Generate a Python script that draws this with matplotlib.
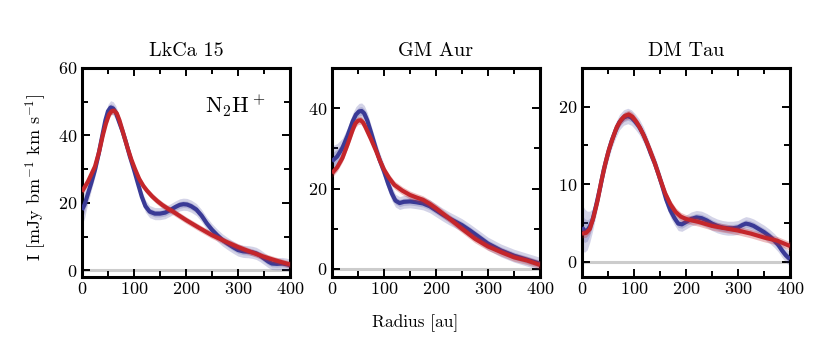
import matplotlib
matplotlib.use("Agg")
import matplotlib.pyplot as plt
from matplotlib.ticker import MultipleLocator
import numpy as np

plt.rcParams['font.family'] = 'serif'
plt.rcParams['font.serif'] = ['cmr10']
plt.rcParams['mathtext.fontset'] = 'cm'
plt.rcParams['axes.formatter.use_mathtext'] = True

titles = ["LkCa 15", "GM Aur", "DM Tau"]

# LkCa 15
r1_blue = [0, 5, 10, 18, 25, 32, 40, 45, 50, 55, 60, 65, 70, 78, 85, 92, 100, 108, 115, 122, 130, 140, 150, 160, 170, 180, 188, 195, 202, 210, 220, 230, 240, 250, 260, 270, 280, 290, 300, 310, 320, 328, 335, 342, 350, 358, 365, 375, 385, 393, 400]
i1_blue = [17.9, 19.5, 22.0, 26.0, 29.8, 34.5, 40.7, 44.5, 47.2, 48.3, 48.0, 46.8, 44.6, 41.2, 37.7, 33.8, 29.8, 25.5, 21.8, 19.0, 17.4, 16.8, 16.8, 17.1, 17.9, 18.8, 19.4, 19.6, 19.5, 19.0, 18.0, 16.2, 13.9, 12.0, 10.4, 9.0, 7.9, 6.9, 6.0, 5.6, 5.5, 5.3, 5.0, 4.4, 3.5, 2.6, 2.0, 1.9, 2.0, 1.8, 1.5]
e1_blue = [4.5, 4.0, 3.0, 2.2, 2.0, 2.0, 2.0, 2.0, 2.0, 2.0, 2.0, 2.0, 2.0, 2.0, 2.0, 1.8, 1.8, 1.8, 1.8, 1.8, 1.8, 1.8, 1.8, 1.8, 1.8, 1.8, 1.8, 1.8, 1.8, 1.8, 1.8, 1.8, 1.8, 1.8, 1.8, 1.8, 1.8, 1.8, 1.8, 1.8, 1.8, 1.8, 1.8, 1.8, 1.8, 1.8, 1.8, 1.8, 1.8, 1.8, 1.8]
r1_red = [0, 12, 25, 33, 40, 46, 52, 57, 62, 67, 72, 80, 87, 95, 102, 110, 118, 125, 135, 145, 155, 165, 175, 188, 200, 225, 250, 275, 300, 325, 350, 375, 400]
i1_red = [23.3, 26.5, 30.8, 35.2, 40.0, 43.5, 46.2, 47.2, 47.3, 46.5, 44.5, 40.3, 36.6, 32.8, 30.0, 27.1, 25.0, 23.6, 21.9, 20.5, 19.3, 18.3, 17.4, 16.1, 14.9, 12.6, 10.4, 8.6, 6.9, 5.4, 4.0, 2.8, 1.7]

# GM Aur
r2_blue = [0, 10, 20, 30, 40, 46, 52, 57, 62, 68, 75, 85, 92, 100, 108, 115, 122, 130, 138, 150, 162, 175, 188, 200, 212, 225, 237, 250, 265, 280, 300, 325, 350, 375, 400]
i2_blue = [26.8, 28.0, 30.1, 33.2, 36.8, 38.4, 39.2, 39.3, 38.7, 36.9, 34.0, 29.7, 27.0, 24.3, 21.2, 18.8, 17.0, 16.4, 16.7, 16.8, 16.6, 16.3, 15.6, 14.6, 13.6, 12.6, 11.8, 10.9, 9.6, 8.2, 6.3, 4.6, 3.3, 2.3, 1.3]
e2_blue = [3.8, 3.2, 2.4, 2.0, 2.0, 2.0, 2.0, 2.0, 2.0, 2.0, 1.8, 1.8, 1.8, 1.8, 1.8, 1.8, 1.6, 1.6, 1.6, 1.6, 1.6, 1.6, 1.6, 1.6, 1.6, 1.6, 1.6, 1.6, 1.6, 1.6, 1.6, 1.6, 1.6, 1.6, 1.6]
r2_red = [0, 10, 20, 30, 40, 45, 50, 55, 60, 65, 75, 85, 92, 100, 110, 120, 135, 150, 162, 175, 188, 200, 225, 250, 275, 300, 325, 350, 375, 400]
i2_red = [23.8, 25.3, 27.6, 31.0, 34.7, 36.2, 36.9, 37.0, 36.4, 35.1, 32.3, 29.3, 27.0, 24.7, 22.6, 20.9, 19.5, 18.4, 17.8, 17.2, 16.2, 15.1, 12.6, 10.0, 7.5, 5.6, 4.2, 2.9, 2.1, 1.0]

# DM Tau
r3_blue = [0, 5, 10, 15, 20, 27, 35, 42, 50, 57, 65, 72, 80, 88, 95, 102, 110, 118, 125, 132, 140, 148, 155, 162, 170, 178, 185, 192, 200, 210, 220, 230, 240, 250, 260, 270, 280, 290, 300, 308, 315, 322, 330, 340, 350, 360, 370, 378, 385, 392, 400]
i3_blue = [4.4, 4.0, 4.0, 4.5, 5.3, 7.2, 9.6, 11.9, 14.0, 15.6, 17.0, 18.0, 18.6, 18.8, 18.6, 18.1, 17.4, 16.4, 15.3, 14.0, 12.7, 11.1, 9.6, 8.0, 6.6, 5.6, 4.9, 4.8, 5.1, 5.5, 5.7, 5.6, 5.3, 4.9, 4.6, 4.4, 4.3, 4.3, 4.4, 4.7, 4.9, 4.8, 4.6, 4.2, 3.8, 3.3, 2.7, 2.1, 1.4, 0.8, 0.3]
e3_blue = [3.0, 2.8, 2.5, 2.0, 1.5, 1.2, 1.0, 1.0, 1.0, 1.0, 1.0, 1.0, 1.0, 1.0, 1.0, 1.0, 1.0, 1.0, 0.9, 0.9, 0.9, 0.9, 0.9, 0.9, 0.9, 0.9, 0.9, 0.9, 0.9, 0.9, 0.9, 0.9, 0.9, 0.9, 0.9, 0.9, 0.9, 0.9, 0.9, 0.9, 0.9, 0.9, 0.9, 0.9, 0.9, 0.9, 0.9, 0.9, 0.9, 0.9, 0.9]
r3_red = [0, 8, 15, 22, 30, 37, 45, 52, 60, 67, 75, 82, 90, 97, 105, 112, 120, 130, 140, 150, 160, 170, 180, 190, 200, 212, 225, 250, 275, 300, 325, 350, 375, 400]
i3_red = [3.6, 3.7, 4.2, 5.7, 7.9, 10.3, 12.7, 14.5, 16.1, 17.4, 18.3, 18.8, 19.0, 18.7, 18.0, 17.2, 16.1, 14.5, 12.7, 10.7, 8.8, 7.4, 6.4, 5.8, 5.5, 5.3, 5.1, 4.6, 4.3, 4.0, 3.6, 3.1, 2.7, 2.0]

panels = [
    (r1_blue, i1_blue, e1_blue, r1_red, i1_red, (-2, 60), 20, 10),
    (r2_blue, i2_blue, e2_blue, r2_red, i2_red, (-2, 50), 20, 10),
    (r3_blue, i3_blue, e3_blue, r3_red, i3_red, (-2, 25), 10, 5),
]

blue = '#3a3a96'
red = '#c4262b'

fig = plt.figure(figsize=(8.31, 3.46), dpi=100)
lefts = [82, 332, 582]
for k, (rb, ib, eb, rr, ir, ylim, maj, mnr) in enumerate(panels):
    ax = fig.add_axes([lefts[k] / 831, 69 / 346, 208 / 831, 209 / 346])
    ax.axhline(0, color='#cccccc', lw=2.2, zorder=1)
    rb = np.array(rb); ib = np.array(ib); eb = np.array(eb)
    rr = np.array(rr); ir = np.array(ir)
    ax.fill_between(rb, ib - eb, ib + eb, color=blue, alpha=0.22, lw=0, zorder=2)
    ax.fill_between(rb, ib - 0.55 * eb, ib + 0.55 * eb, color=blue, alpha=0.22, lw=0, zorder=2)
    ax.plot(rb, ib, color=blue, lw=3.0, zorder=3, solid_joinstyle='round', solid_capstyle='butt')
    er = 1.0 if k < 2 else 0.55
    ax.fill_between(rr, ir - er, ir + er, color=red, alpha=0.3, lw=0, zorder=4)
    ax.plot(rr, ir, color=red, lw=3.0, zorder=5, solid_joinstyle='round', solid_capstyle='butt')
    ax.set_xlim(0, 400)
    ax.set_ylim(*ylim)
    ax.xaxis.set_major_locator(MultipleLocator(100))
    ax.xaxis.set_minor_locator(MultipleLocator(50))
    ax.yaxis.set_major_locator(MultipleLocator(maj))
    ax.yaxis.set_minor_locator(MultipleLocator(mnr))
    ax.tick_params(which='both', direction='in', top=True, right=True, width=1.4, labelsize=13, pad=3)
    ax.tick_params(which='major', length=6)
    ax.tick_params(which='minor', length=4)
    for s in ax.spines.values():
        s.set_linewidth(2.2)
    ax.set_title(titles[k], fontsize=14.5, pad=9)
    if k == 0:
        ax.text(0.735, 0.82, r'N$_2$H$^+$', transform=ax.transAxes, fontsize=16, ha='center', va='center')

fig.text(0.5, 1 - 323 / 346, 'Radius [au]', ha='center', va='center', fontsize=12.5)
fig.text(36 / 831, 1 - 177 / 346, r'I [mJy bm$^{-1}$ km s$^{-1}$]', ha='center', va='center', rotation=90, fontsize=13)

fig.savefig('out.png', dpi=100)
